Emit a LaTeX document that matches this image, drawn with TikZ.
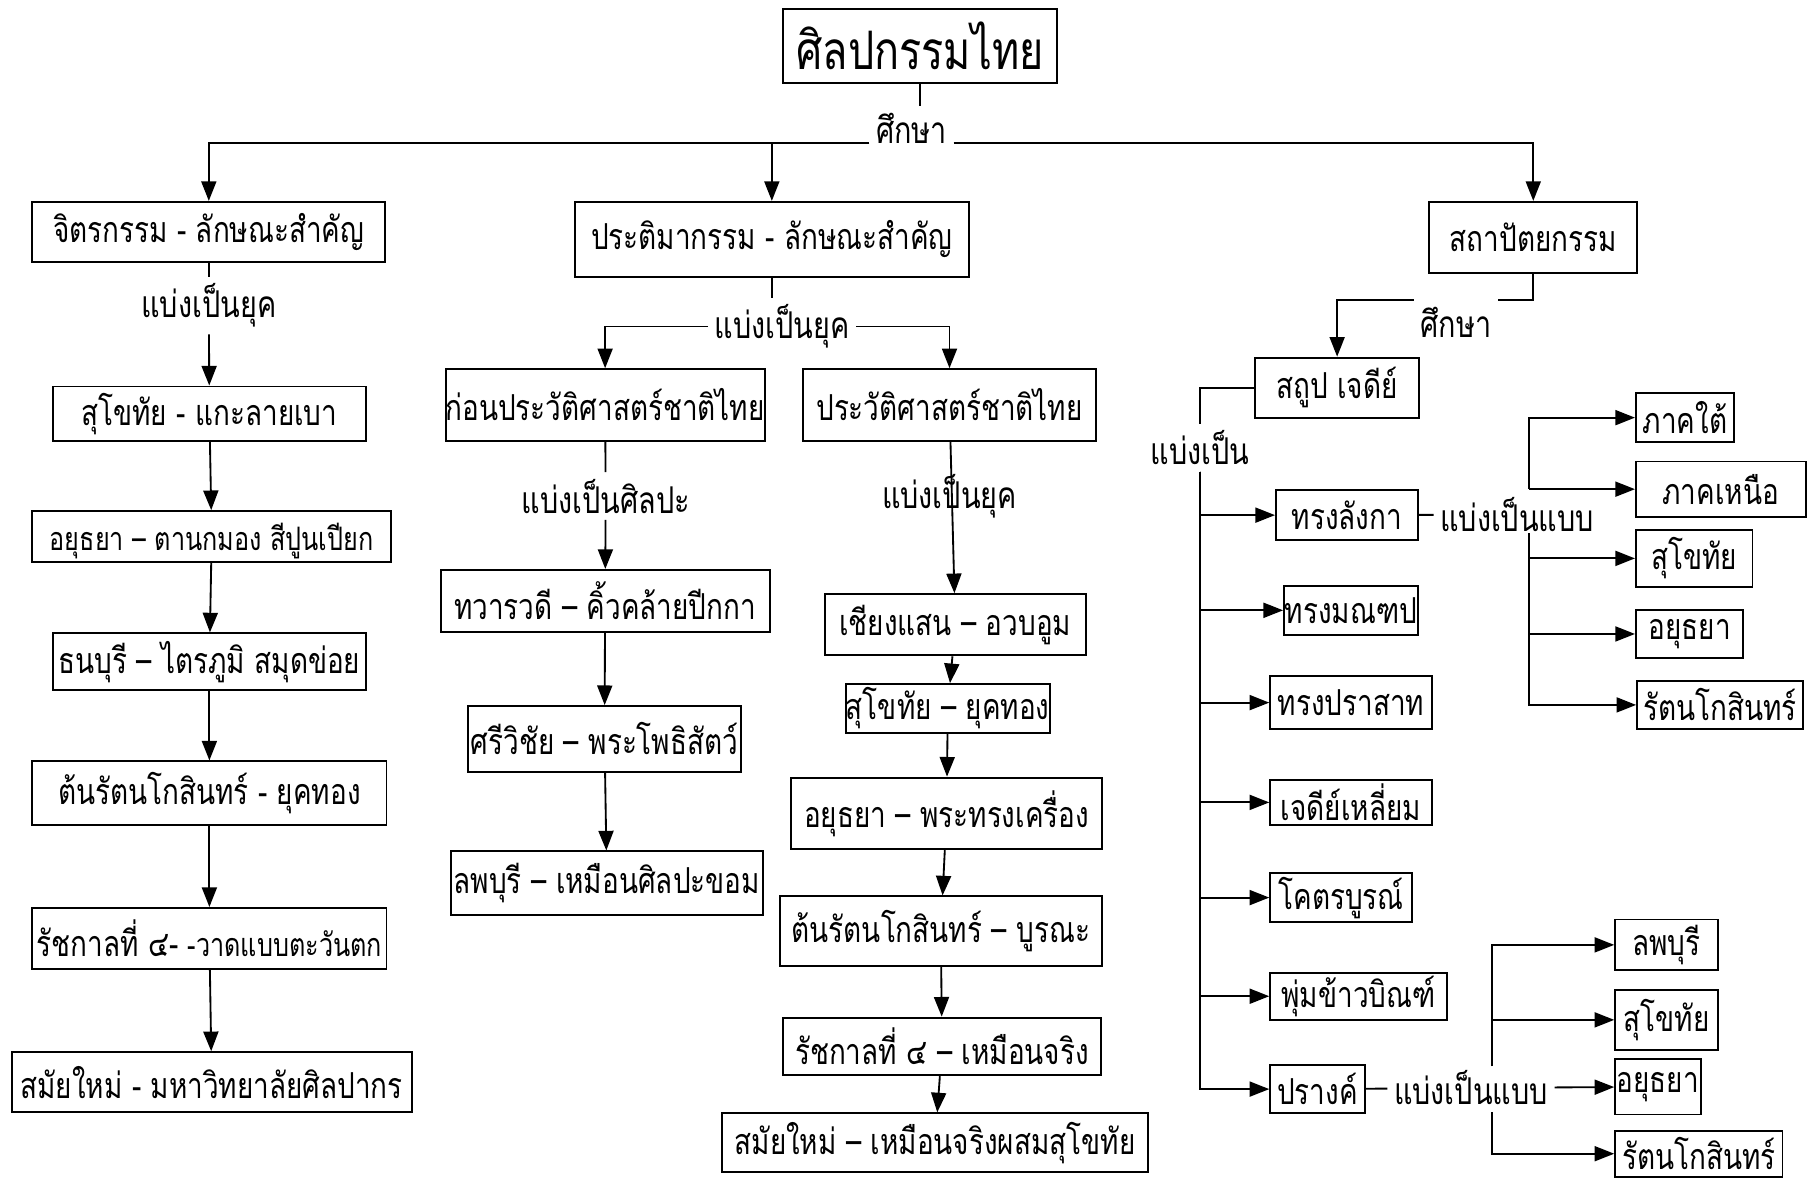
\documentclass[tikz,border=0pt]{standalone}
\usepackage{fontspec}
\usetikzlibrary{arrows.meta}
\newfontfamily\thaifont[Script=Thai,FakeStretch=0.78]{Loma}
\tikzset{
	box/.style={draw, line width=1.7pt, inner sep=0pt, font=\thaifont\fontsize{31}{36}\selectfont},
	lbl/.style={inner sep=5pt, font=\thaifont\fontsize{32}{38}\selectfont},
	arr/.style={-{Triangle[length=17pt,width=13pt]}},
}

\begin{document}
\begin{tikzpicture}[x=1pt, y=-1pt, line width=1.6pt]
			%%%%% START %%%%%
			\useasboundingbox (0,0) rectangle (1568,1025);
			
			\node[box, minimum width=237, minimum height=64, font=\thaifont\fontsize{46}{54}\selectfont] (ttl) at (797.5,40) {ศิลปกรรมไทย};
			\node[lbl, anchor=base] (st1) at (790,124) {ศึกษา};
			
			\node[box, minimum width=306, minimum height=52] (jit) at (181,201) {จิตรกรรม - ลักษณะสำคัญ};
			\node[box, minimum width=342, minimum height=65] (pra) at (669,207.5) {ประติมากรรม - ลักษณะสำคัญ};
			\node[box, minimum width=180, minimum height=62] (sth) at (1329,206) {สถาปัตยกรรม};
			
			\draw (ttl.south) -- (ttl.south |- st1.north);
			\draw[arr] (st1.base west) -| (jit.north);
			\draw[arr] (st1.base west -| pra.north) -- (pra.north);
			\draw[arr] (st1.base east) -| (sth.north);
			
			% jitrakam
			\node[lbl] (dv1) at (181,265) {แบ่งเป็นยุค};
			\node[box, minimum width=271, minimum height=47] (p1) at (181.5,358.5) {สุโขทัย - แกะลายเบา};
			\node[box, minimum width=311, minimum height=44, font=\thaifont\fontsize{28}{32}\selectfont, text depth=-4pt] (p2) at (183.5,465) {อยุธยา – ตานกมอง สีปูนเปียก};
			\node[box, minimum width=271, minimum height=49] (p3) at (181.5,573.5) {ธนบุรี – ไตรภูมิ สมุดข่อย};
			\node[box, minimum width=307, minimum height=55] (p4) at (181.5,687.5) {ต้นรัตนโกสินทร์ - ยุคทอง};
			\node[box, minimum width=307, minimum height=53] (p5) at (181.5,813.5) {รัชกาลที่ ๔- {\fontsize{28}{32}\selectfont -วาดแบบตะวันตก}};
			\node[box, minimum width=347, minimum height=52] (p6) at (183.5,938) {สมัยใหม่ - มหาวิทยาลัยศิลปากร};
			
			\draw (jit) -- (dv1);
			\draw[arr] (dv1) -- (p1);
			\draw[arr] (p1) -- (p2);
			\draw[arr] (p2) -- (p3);
			\draw[arr] (p3) -- (p4);
			\draw[arr] (p4) -- (p5);
			\draw[arr] (p5) -- (p6);
			
			% pratima
			\node[lbl] (dv2) at (678,283) {แบ่งเป็นยุค};
			\node[box, minimum width=275, minimum height=62] (pre) at (524.5,351) {ก่อนประวัติศาสตร์ชาติไทย};
			\node[box, minimum width=254, minimum height=62] (his) at (823,351) {ประวัติศาสตร์ชาติไทย};
			
			\draw (pra.south) -- (pra.south |- dv2.north);
			\draw[arr] (dv2.west) -| (pre.north);
			\draw[arr] (dv2.east) -| (his.north);
			
			\node[lbl] (dv3) at (525,430) {แบ่งเป็นศิลปะ};
			\node[box, minimum width=285, minimum height=54] (s1) at (524.5,521) {ทวารวดี – คิ้วคล้ายปีกกา};
			\node[box, minimum width=236, minimum height=57] (s2) at (524,640.5) {ศรีวิชัย – พระโพธิสัตว์};
			\node[box, minimum width=270, minimum height=55] (s3) at (526,765.5) {ลพบุรี – เหมือนศิลปะขอม};
			
			\draw (pre) -- (dv3);
			\draw[arr] (dv3) -- (s1);
			\draw[arr] (s1) -- (s2);
			\draw[arr] (s2) -- (s3);
			
			\node[lbl] (dv4) at (823,430) {แบ่งเป็นยุค};
			\node[box, minimum width=226, minimum height=53] (h1) at (828,541.5) {เชียงแสน – อวบอูม};
			\node[box, minimum width=177, minimum height=42] (h2) at (821.5,614) {สุโขทัย – ยุคทอง};
			\node[box, minimum width=269, minimum height=62] (h3) at (820.5,705) {อยุธยา – พระทรงเครื่อง};
			\node[box, minimum width=279, minimum height=60] (h4) at (815.5,807) {ต้นรัตนโกสินทร์ – บูรณะ};
			\node[box, minimum width=275, minimum height=50] (h5) at (816.5,907) {รัชกาลที่ ๔ – เหมือนจริง};
			\node[box, minimum width=369, minimum height=51] (h6) at (810.5,990.5) {สมัยใหม่ – เหมือนจริงผสมสุโขทัย};
			
			\draw[arr] (his) -- (h1);
			\draw[arr] (h1) -- (h2);
			\draw[arr] (h2) -- (h3);
			\draw[arr] (h3) -- (h4);
			\draw[arr] (h4) -- (h5);
			\draw[arr] (h5) -- (h6);
			
			% sathapat
			\node[lbl] (st2) at (1262,279) {ศึกษา};
			\node[box, minimum width=142, minimum height=52] (sp) at (1159,336) {สถูป เจดีย์};
			\node[lbl] (dv5) at (1040,388) {แบ่งเป็น};
			
			\draw (sth.south) |- (st2.north east);
			\draw[arr] (st2.north west) -| (sp.north);
			\draw (sp.west) -| (dv5.north);
			
			\node[box, minimum width=123, minimum height=43] (c1) at (1167.5,446.5) {ทรงลังกา};
			\node[box, minimum width=116, minimum height=42] (c2) at (1171,529) {ทรงมณฑป};
			\node[box, minimum width=140, minimum height=46] (c3) at (1171,609) {ทรงปราสาท};
			\node[box, minimum width=140, minimum height=39] (c4) at (1171,695.5) {เจดีย์เหลี่ยม};
			\node[box, minimum width=123, minimum height=42] (c5) at (1162.5,778) {โคตรบูรณ์};
			\node[box, minimum width=153, minimum height=41] (c6) at (1177.5,863.5) {พุ่มข้าวบิณฑ์};
			\node[box, minimum width=82, minimum height=42] (c7) at (1142,944) {ปรางค์};
			
			\draw[arr] (dv5.south) |- (c1.west);
			\draw[arr] (dv5.south) |- (c2.west);
			\draw[arr] (dv5.south) |- (c3.west);
			\draw[arr] (dv5.south) |- (c4.west);
			\draw[arr] (dv5.south) |- (c5.west);
			\draw[arr] (dv5.south) |- (c6.west);
			\draw[arr] (dv5.south) |- (c7.west);
			
			% langka
			\node[lbl] (dv6) at (1315,446) {แบ่งเป็นแบบ};
			\coordinate (up6) at (1325,424);
			\coordinate (dn6) at (1325,462);
			\node[box, minimum width=85, minimum height=42] (q1) at (1460.5,362) {ภาคใต้};
			\node[box, minimum width=147, minimum height=48] (q2) at (1491.5,424) {ภาคเหนือ};
			\node[box, minimum width=101, minimum height=50] (q3) at (1468.5,484) {สุโขทัย};
			\node[box, minimum width=93, minimum height=41] (q4) at (1464.5,549.5) {อยุธยา};
			\node[box, minimum width=144, minimum height=42] (q5) at (1491,611) {รัตนโกสินทร์};
			
			\draw (c1) -- (dv6);
			\draw[arr] (up6) |- (q1.west);
			\draw[arr] (up6) -- (q2.west);
			\draw[arr] (dn6) |- (q3.west);
			\draw[arr] (dn6) |- (q4.west);
			\draw[arr] (dn6) |- (q5.west);
			
			% prang
			\node[lbl] (dv7) at (1275,943) {แบ่งเป็นแบบ};
			\coordinate (up7) at (1293,924);
			\coordinate (dn7) at (1293,964);
			\node[box, minimum width=89, minimum height=44] (r1) at (1444.5,819) {ลพบุรี};
			\node[box, minimum width=89, minimum height=52] (r2) at (1444.5,884) {สุโขทัย};
			\node[box, minimum width=74, minimum height=48] (r3) at (1437,942) {อยุธยา};
			\node[box, minimum width=145, minimum height=40] (r4) at (1472.5,1000) {รัตนโกสินทร์};
			
			\draw (c7) -- (dv7);
			\draw[arr] (up7) |- (r1.west);
			\draw[arr] (up7) |- (r2.west);
			\draw[arr] (dv7) -- (r3);
			\draw[arr] (dn7) |- (r4.west);
			%%%%% END %%%%%
\end{tikzpicture}
\end{document}
